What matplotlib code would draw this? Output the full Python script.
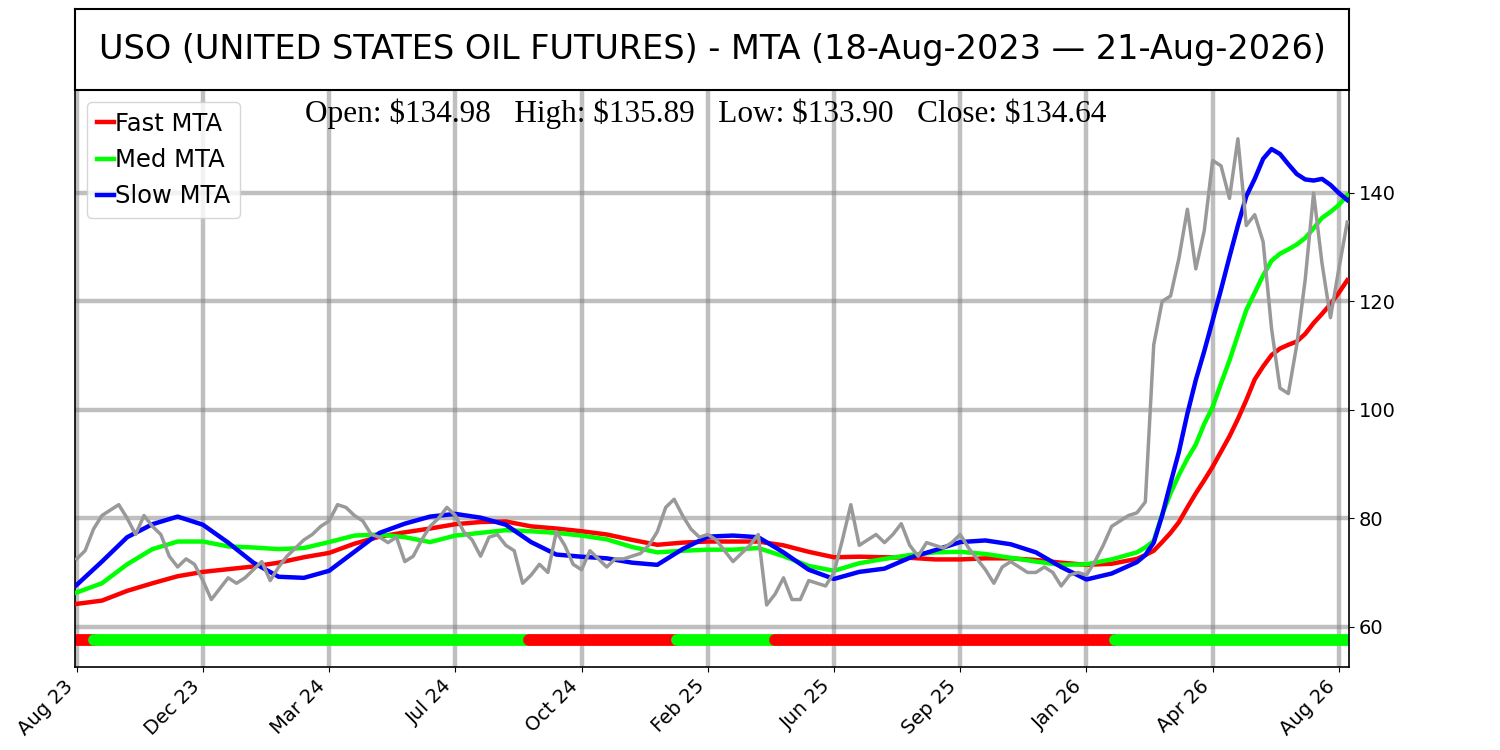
import numpy as np
import matplotlib
matplotlib.use("Agg")
import matplotlib.pyplot as plt

# --- data (bar index = trading day) ---
n_bars = 756
price_step = 5
price = [
    72.5, 74, 78, 80.5, 81.5, 82.5, 80, 77, 80.5, 78.5,
    77, 73, 71, 72.5, 71.5, 68.5, 65, 67, 69, 68,
    69, 70.5, 72, 68.5, 71, 73, 74.5, 76, 77, 78.5,
    79.5, 82.5, 82, 80.5, 79.5, 77, 76.5, 75.5, 76.5, 72,
    73, 76, 78.5, 80, 82, 80.5, 77.5, 76, 73, 76.5,
    77, 75, 74, 68, 69.5, 71.5, 70, 77.5, 75, 71.5,
    70.5, 74, 72.5, 71, 72.5, 72.5, 73, 73.5, 75, 77.5,
    82, 83.5, 80.5, 78, 76.5, 77, 76, 74, 72, 73.5,
    75, 77, 64, 66, 69, 65, 65, 68.5, 68, 67.5,
    70, 76, 82.5, 75, 76, 77, 75.5, 77, 79, 75,
    73, 75.5, 75, 74.5, 75.5, 77, 74.5, 72.5, 70.5, 68,
    71, 72, 71, 70, 70, 71, 70, 67.5, 69.5, 70,
    69.5, 72, 75, 78.5, 79.5, 80.5, 81, 83, 112, 120,
    121, 128, 137, 126, 133, 146, 145, 139, 150, 134,
    136, 131, 115, 104, 103, 112, 124, 140, 127, 117,
    126, 134.64,
]

# MTA samples: every 15 bars, then every 5 bars through the spike
mta_x = list(range(0, 631, 15)) + list(range(635, 756, 5))
fast_mta = [
    64.2, 64.8, 66.6, 68.0, 69.3, 70.1, 70.6, 71.1, 71.8, 72.8,
    73.6, 75.3, 76.6, 77.4, 78.1, 78.9, 79.3, 79.4, 78.5, 78.1,
    77.6, 77.0, 76.0, 75.1, 75.5, 75.7, 75.7, 75.7, 75.0, 73.8,
    72.8, 72.9, 72.8, 72.7, 72.4, 72.4, 72.6, 72.6, 72.3, 71.8,
    71.4, 71.6, 72.5,
    73.2, 74.0, 75.6, 77.3, 79.3, 82.0, 84.6, 87.0, 89.5, 92.3,
    95.1, 98.3, 101.8, 105.6, 108.0, 110.1, 111.3, 112.0, 112.6, 114.0,
    116.0, 117.7, 119.5, 121.6, 123.9,
]
med_mta = [
    66.3, 68.0, 71.5, 74.3, 75.7, 75.7, 74.8, 74.6, 74.3, 74.5,
    75.6, 76.8, 77.0, 76.5, 75.6, 76.8, 77.3, 77.8, 77.6, 77.3,
    76.8, 76.1, 74.7, 73.7, 74.0, 74.2, 74.2, 74.5, 73.0, 71.2,
    70.3, 71.7, 72.5, 73.2, 73.7, 73.8, 73.4, 72.7, 72.0, 71.4,
    71.5, 72.4, 73.7,
    74.6, 75.8, 80.7, 84.6, 88.0, 91.0, 93.6, 97.4, 100.5, 104.9,
    109.1, 113.8, 118.4, 121.6, 124.8, 127.5, 128.8, 129.6, 130.5, 131.7,
    133.5, 135.4, 136.5, 137.8, 139.6,
]
slow_mta = [
    67.7, 72.0, 76.5, 78.9, 80.3, 78.8, 75.5, 71.8, 69.2, 69.0,
    70.3, 73.8, 77.3, 79.0, 80.3, 80.8, 80.1, 78.8, 75.6, 73.3,
    72.9, 72.6, 71.8, 71.4, 74.3, 76.6, 76.8, 76.5, 73.7, 70.5,
    68.8, 70.1, 70.7, 72.7, 74.1, 75.6, 75.9, 75.2, 73.7, 71.0,
    68.7, 69.8, 71.9,
    73.2, 75.5, 80.5, 86.5, 92.3, 99.3, 105.5, 110.8, 116.5, 122.2,
    128.2, 134.0, 139.4, 142.6, 146.3, 148.1, 147.2, 145.3, 143.5, 142.5,
    142.3, 142.6, 141.5, 140.0, 138.7,
]

# trend status strip: (start bar, end bar, colour)
status_start = [0, 10, 269, 357, 415, 617]
status_end = [10, 269, 357, 415, 617, 755]
status_color = ['#ff0000', '#00ff00', '#ff0000', '#00ff00', '#ff0000', '#00ff00']
status_level = 57.6

tick_labels = ["Aug 23", "Dec 23", "Mar 24", "Jul 24", "Oct 24", "Feb 25",
               "Jun 25", "Sep 25", "Jan 26", "Apr 26", "Aug 26"]
tick_step = 75

title = "USO (UNITED STATES OIL FUTURES) - MTA (18-Aug-2023 \u2014 21-Aug-2026)"
ohlc_text = "Open: \\$134.98   High: \\$135.89   Low: \\$133.90   Close: \\$134.64"

# --- figure ---
fig = plt.figure(figsize=(15, 7.5), dpi=100)
ax = fig.add_axes([0.05, 0.111, 0.8493, 0.769])
tax = fig.add_axes([0.05, 0.88, 0.8493, 0.108])

# 标题框
tax.set_xticks([])
tax.set_yticks([])
for s in tax.spines.values():
    s.set_linewidth(1.5)
tax.text(0.5, 0.5, title, ha='center', va='center', fontsize=24.1,
         transform=tax.transAxes)

ax.grid(True, color='gray', alpha=0.5, linewidth=3.2)
ax.set_axisbelow(True)

# 状态条
for s0, s1, c in zip(status_start, status_end, status_color):
    ax.plot([s0, s1], [status_level, status_level], color=c, linewidth=8.5,
            solid_capstyle='round', zorder=2)

ax.plot(mta_x, fast_mta, color='#ff0000', linewidth=3.2, label='Fast MTA', zorder=3)
ax.plot(mta_x, med_mta, color='#00ff00', linewidth=3.2, label='Med MTA', zorder=3)
ax.plot(mta_x, slow_mta, color='#0000ff', linewidth=3.2, label='Slow MTA', zorder=3)

px = np.arange(len(price)) * price_step
px[-1] = n_bars - 1
ax.plot(px, price, color='#999999', linewidth=2.5, zorder=4)

ax.set_xlim(-1, n_bars)
ax.set_ylim(52.6, 159.0)

ax.set_xticks(np.arange(len(tick_labels)) * tick_step)
ax.set_xticklabels(tick_labels, rotation=45, ha='right', fontsize=14)
ax.yaxis.tick_right()
ax.set_yticks([60, 80, 100, 120, 140])
ax.tick_params(axis='y', labelsize=14)
for s in ax.spines.values():
    s.set_linewidth(1.2)

ax.text(0.4953, 0.9445, ohlc_text, ha='center', va='baseline', fontsize=22.5,
        family='Liberation Serif', transform=ax.transAxes, zorder=5)

ax.legend(loc='upper left', fontsize=17.5, handlelength=0.7, handletextpad=0.05,
          labelspacing=0.5, borderpad=0.4)

fig.savefig('out.png', dpi=100)
